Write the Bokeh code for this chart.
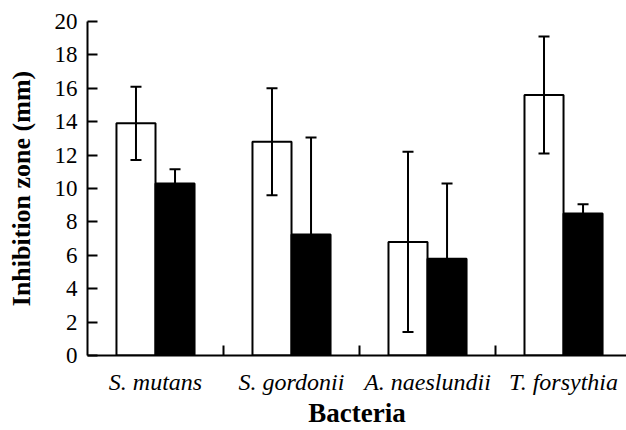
from bokeh.plotting import figure
from bokeh.models import ColumnDataSource, Range1d, FixedTicker, Whisker, TeeHead
from bokeh.transform import dodge
from bokeh.embed import file_html
from bokeh.resources import INLINE

categories = ["S. mutans", "S. gordonii", "A. naeslundii", "T. forsythia"]
open_mean = [13.9, 12.8, 6.8, 15.6]
open_err = [2.2, 3.2, 5.4, 3.5]
filled_mean = [10.3, 7.25, 5.8, 8.5]
filled_err = [0.85, 5.8, 4.5, 0.55]
y_ticks = [0, 2, 4, 6, 8, 10, 12, 14, 16, 18, 20]

xc = [i + 0.5 for i in range(len(categories))]
src = ColumnDataSource(dict(
    x=xc,
    om=open_mean, ol=[m - e for m, e in zip(open_mean, open_err)], ou=[m + e for m, e in zip(open_mean, open_err)],
    fm=filled_mean, fl=[m - e for m, e in zip(filled_mean, filled_err)], fu=[m + e for m, e in zip(filled_mean, filled_err)],
))

BW = 0.287
FONT = "Liberation Serif"

p = figure(width=626, height=430, output_backend="svg", toolbar_location=None,
           x_range=Range1d(0, 3.963), y_range=Range1d(0, 20),
           min_border_left=87, min_border_right=0, min_border_top=21, min_border_bottom=75)
p.outline_line_color = None
p.grid.visible = False
p.background_fill_color = "white"

p.vbar(x=dodge("x", -BW / 2), top="om", bottom=0, width=BW, source=src,
       fill_color="white", line_color="black", line_width=2)
p.vbar(x=dodge("x", BW / 2), top="fm", bottom=0, width=BW, source=src,
       fill_color="black", line_color="black", line_width=2)

for base, lo, hi in [(dodge("x", -BW / 2), "ol", "ou"), (dodge("x", BW / 2), "fl", "fu")]:
    w = Whisker(base=base, lower=lo, upper=hi, source=src, line_color="black", line_width=2,
                level="overlay",
                upper_head=TeeHead(size=11, line_width=2, line_color="black"),
                lower_head=TeeHead(size=11, line_width=2, line_color="black"))
    p.add_layout(w)

xa = p.xaxis[0]
xa.ticker = FixedTicker(ticks=xc, minor_ticks=[1, 2, 3])
xa.major_label_overrides = {x: c for x, c in zip(xc, categories)}
xa.major_tick_line_color = None
xa.minor_tick_in = 10
xa.minor_tick_out = 0
xa.minor_tick_line_width = 2
xa.axis_line_width = 2
xa.major_label_text_font = FONT
xa.major_label_text_font_style = "italic"
xa.major_label_text_font_size = "24px"
xa.major_label_text_color = "black"
xa.major_label_standoff = 7
xa.axis_label = "Bacteria"
xa.axis_label_text_font = FONT
xa.axis_label_text_font_style = "bold"
xa.axis_label_text_font_size = "27px"
xa.axis_label_text_color = "black"
xa.axis_label_standoff = 0

ya = p.yaxis[0]
ya.ticker = FixedTicker(ticks=y_ticks, minor_ticks=[])
ya.major_tick_in = 10
ya.major_tick_out = 0
ya.major_tick_line_width = 2
ya.axis_line_width = 2
ya.major_label_text_font = FONT
ya.major_label_text_font_size = "23px"
ya.major_label_text_color = "black"
ya.major_label_standoff = 10
ya.axis_label = "Inhibition zone (mm)"
ya.axis_label_text_font = FONT
ya.axis_label_text_font_style = "bold"
ya.axis_label_text_font_size = "26px"
ya.axis_label_text_color = "black"
ya.axis_label_standoff = 16

open("out.html", "w").write(file_html(p, INLINE))
